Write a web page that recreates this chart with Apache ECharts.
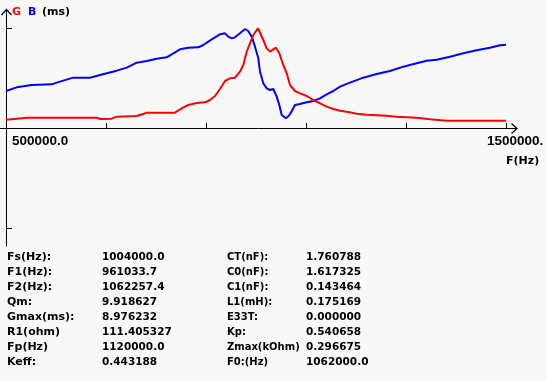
<!DOCTYPE html>
<html>
<head>
<meta charset="utf-8">
<script src="https://cdn.jsdelivr.net/npm/echarts@6/dist/echarts.min.js"></script>
<style>
html,body{margin:0;padding:0;background:#f8f8f8;}
#c{width:547px;height:381px;}
</style>
</head>
<body>
<div id="c"></div>
<script>
// ---- data ----
const gFreq = [500000, 521400, 541400, 681400, 688000, 711400, 721400, 761400, 774600, 781400, 838000, 851400, 864600, 881400, 898000, 908000, 918000, 928000, 938000, 948000, 958000, 968000, 974600, 981400, 988000, 994600, 1004000, 1008000, 1014600, 1021400, 1028000, 1034600, 1040000, 1046600, 1054600, 1061400, 1068000, 1078000, 1088000, 1101400, 1114600, 1128000, 1141400, 1154600, 1168000, 1181400, 1201400, 1221400, 1261400, 1281400, 1321400, 1348000, 1381400, 1500000];
const gVal = [0.75, 0.84, 0.93, 0.93, 0.81, 0.84, 1.02, 1.08, 1.26, 1.38, 1.38, 1.77, 2.07, 2.25, 2.31, 2.52, 2.88, 3.51, 4.23, 4.47, 4.53, 5.07, 5.67, 6.87, 7.62, 8.37, 8.976, 8.82, 7.92, 7.17, 6.87, 7.08, 7.23, 6.72, 5.67, 4.92, 3.87, 3.33, 3.12, 2.88, 2.52, 2.22, 1.92, 1.71, 1.56, 1.47, 1.29, 1.20, 1.11, 1.02, 0.93, 0.78, 0.66, 0.66];
const bFreq = [500000, 521400, 551400, 591400, 601400, 634600, 668000, 688000, 721400, 741400, 761400, 781400, 801400, 821400, 831400, 848000, 864600, 884600, 894600, 911400, 928000, 938000, 944600, 951400, 958000, 968000, 978000, 984600, 991400, 998000, 1004600, 1008000, 1014600, 1021400, 1028000, 1034600, 1041400, 1046600, 1051400, 1060000, 1068000, 1078000, 1088000, 1101400, 1114600, 1128000, 1141400, 1154600, 1168000, 1188000, 1214600, 1241400, 1268000, 1294600, 1321400, 1341400, 1361400, 1388000, 1414600, 1441400, 1468000, 1488000, 1500000];
const bVal = [3.33, 3.66, 3.87, 3.93, 4.08, 4.53, 4.53, 4.77, 5.16, 5.43, 5.88, 6.03, 6.24, 6.36, 6.63, 7.08, 7.23, 7.26, 7.47, 7.98, 8.43, 8.52, 8.22, 8.07, 8.16, 8.52, 8.91, 8.73, 8.22, 7.32, 6.27, 5.07, 4.02, 3.57, 3.42, 3.51, 2.82, 2.07, 1.17, 0.87, 1.23, 2.07, 2.16, 2.31, 2.43, 2.67, 3.03, 3.33, 3.72, 4.08, 4.53, 4.86, 5.13, 5.52, 5.82, 6.06, 6.15, 6.42, 6.72, 6.99, 7.23, 7.44, 7.50];
const xTicks = [700000, 900000, 1100000, 1300000, 1500000];
const yTicks = [-9, 9];
const xLabelLeft = '500000.0';
const xLabelRight = '1500000.';
const xName = 'F(Hz)';
const unitText = '(ms)';
const col1Labels = ['Fs(Hz):', 'F1(Hz):', 'F2(Hz):', 'Qm:', 'Gmax(ms):', 'R1(ohm)', 'Fp(Hz)', 'Keff:'];
const col1Values = ['1004000.0', '961033.7', '1062257.4', '9.918627', '8.976232', '111.405327', '1120000.0', '0.443188'];
const col2Labels = ['CT(nF):', 'C0(nF):', 'C1(nF):', 'L1(mH):', 'E33T:', 'Kp:', 'Zmax(kOhm)', 'F0:(Hz)'];
const col2Values = ['1.760788', '1.617325', '0.143464', '0.175169', '0.000000', '0.540658', '0.296675', '1062000.0'];

// ---- chart ----
const zip = (a, b) => a.map((v, i) => [v, b[i]]);
const labelFont = 'bold 11px "DejaVu Sans"';
const valueFont = 'bold 10.5px "DejaVu Sans"';
const axisFont = 'bold 13.5px "Liberation Sans"';
const graphics = [];
function txt(x, y, s, font, fill) {
  graphics.push({type: 'text', x: x, y: y, silent: true,
    style: {text: s, font: font || labelFont, fill: fill || '#000', verticalAlign: 'middle', align: 'left'}});
}
txt(12, 141, xLabelLeft, axisFont);
txt(487, 141, xLabelRight, axisFont);
txt(506, 161, xName);
txt(42, 12, unitText);
for (let i = 0; i < col1Labels.length; i++) {
  const y = 257 + i * 15;
  txt(7, y, col1Labels[i]);
  txt(102, y, col1Values[i], valueFont);
  txt(227, y, col2Labels[i], 'bold 10px "DejaVu Sans"');
  txt(306, y, col2Values[i], valueFont);
}
// open arrow heads at the axis ends
graphics.push({type: 'polyline', z: 100, silent: true, shape: {points: [[1.5, 15], [6.5, 9.5], [11.5, 15]]}, style: {stroke: '#000', lineWidth: 1.2, fill: 'none'}});
graphics.push({type: 'polyline', z: 100, silent: true, shape: {points: [[511.5, 123.5], [517, 128.5], [511.5, 133.5]]}, style: {stroke: '#000', lineWidth: 1.2, fill: 'none'}});

const chart = echarts.init(document.getElementById('c'), null, {renderer: 'canvas'});
chart.setOption({
  backgroundColor: '#f8f8f8',
  animation: false,
  legend: {
    left: 2, top: 0, icon: 'none', itemWidth: 0, itemGap: 2,
    selectedMode: false,
    textStyle: {fontFamily: 'DejaVu Sans', fontWeight: 'bold', fontSize: 11},
    data: [{name: 'G', textStyle: {color: '#ff0000'}}, {name: 'B', textStyle: {color: '#0000ff'}}]
  },
  grid: {left: 0, right: 30, top: 10, bottom: 135, containLabel: false},
  xAxis: {
    type: 'value', min: 488000, max: 1522000,
    splitLine: {show: false},
    axisLine: {onZero: true, lineStyle: {color: '#000', width: 1}},
    axisTick: {show: true, inside: true, length: 5, customValues: xTicks, lineStyle: {color: '#000'}},
    axisLabel: {show: false}
  },
  yAxis: {
    type: 'value', min: -10.62, max: 10.62, offset: -6,
    splitLine: {show: false},
    axisLine: {show: true, onZero: false, lineStyle: {color: '#000', width: 1}},
    axisTick: {show: true, inside: true, length: 6, customValues: yTicks, lineStyle: {color: '#000'}},
    axisLabel: {show: false}
  },
  series: [
    {name: 'B', type: 'line', data: zip(bFreq, bVal), showSymbol: false, lineStyle: {color: '#0000ff', width: 2}, itemStyle: {color: '#0000ff'}},
    {name: 'G', type: 'line', data: zip(gFreq, gVal), showSymbol: false, lineStyle: {color: '#ff0000', width: 2}, itemStyle: {color: '#ff0000'}}
  ],
  graphic: {elements: graphics}
});
</script>
</body>
</html>
